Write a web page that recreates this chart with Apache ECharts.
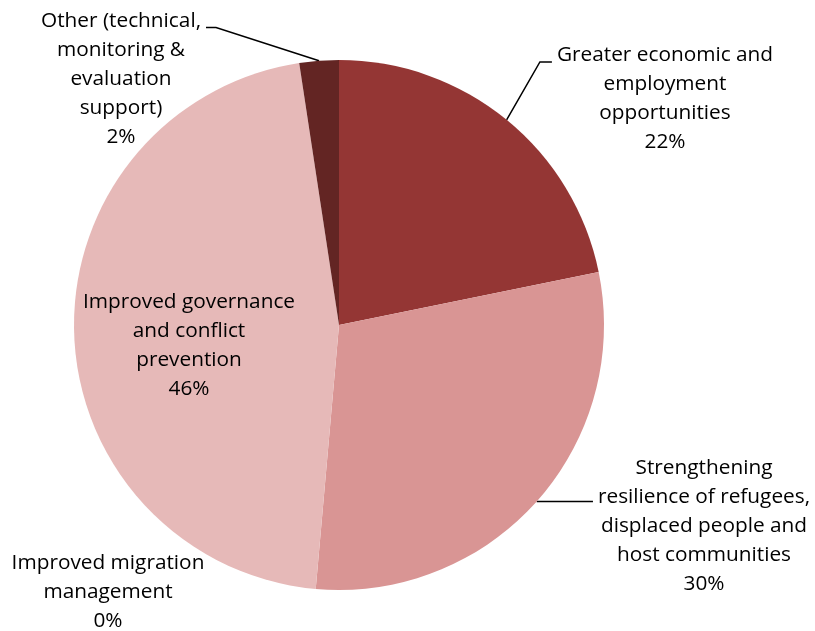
<!DOCTYPE html>
<html>
<head>
<meta charset="utf-8">
<script src="https://cdn.jsdelivr.net/npm/echarts@6/dist/echarts.min.js"></script>
<style>
  html, body { margin: 0; padding: 0; background: #ffffff; }
  #chart { width: 815px; height: 631px; }
</style>
</head>
<body>
<div id="chart"></div>
<script>
// Funding priorities and their share of the total (%)
const categories = [
  'Greater economic and\nemployment\nopportunities',
  'Strengthening\nresilience of refugees,\ndisplaced people and\nhost communities',
  'Improved migration\nmanagement',
  'Improved governance\nand conflict\nprevention',
  'Other (technical,\nmonitoring &\nevaluation\nsupport)'
];
const shares = [21.8, 29.6, 0, 46.2, 2.4];
const sliceColors = ['#943634', '#D99594', '#C0504D', '#E6B9B8', '#632523'];
// label block centres, in pixels
const labelCentres = [[665, 99], [704, 526], [108, 592], [189, 346], [121, 79]];
const showLeader = [true, true, false, false, true];
// where the leader meets the label: px below the block top, or null to stay level with the slice
const leaderAttach = [21, null, null, null, 21];

const chart = echarts.init(document.getElementById('chart'), null, { renderer: 'canvas' });

const data = categories.map((name, i) => ({
  name: name,
  value: shares[i],
  itemStyle: { color: sliceColors[i] },
  labelLine: { show: showLeader[i] }
}));

chart.setOption({
  animation: false,
  backgroundColor: '#ffffff',
  series: [{
    type: 'pie',
    center: [339, 325],
    radius: [0, 265],
    startAngle: 90,
    clockwise: true,
    avoidLabelOverlap: false,
    minShowLabelAngle: 0,
    percentPrecision: 0,
    itemStyle: { borderWidth: 0 },
    emphasis: { disabled: true },
    label: {
      show: true,
      position: 'outside',
      alignTo: 'none',
      formatter: '{b}\n{d}%',
      fontFamily: 'Open Sans',
      fontSize: 20.8,
      lineHeight: 29,
      color: '#000000',
      align: 'center'
    },
    labelLine: {
      show: true,
      length: 5,
      length2: 10,
      lineStyle: { color: '#000000', width: 1.5 }
    },
    labelLayout: function (params) {
      const i = params.dataIndex;
      const c = labelCentres[i];
      const out = { x: c[0], y: c[1], align: 'center', verticalAlign: 'middle' };
      if (showLeader[i] && params.labelLinePoints) {
        const w = params.labelRect.width;
        const h = params.labelRect.height;
        const left = c[0] - w / 2;
        const right = c[0] + w / 2;
        const top = c[1] - h / 2;
        const start = params.labelLinePoints[0];
        const onRight = c[0] > start[0];
        const edge = onRight ? left - 5 : right + 5;
        if (leaderAttach[i] == null) {
          out.labelLinePoints = [start, [edge, start[1]], [edge, start[1]]];
        } else {
          const y = top + leaderAttach[i];
          const bend = onRight ? edge - 12 : edge + 10;
          out.labelLinePoints = [start, [bend, y], [edge, y]];
        }
      }
      return out;
    },
    data: data
  }]
});
</script>
</body>
</html>
